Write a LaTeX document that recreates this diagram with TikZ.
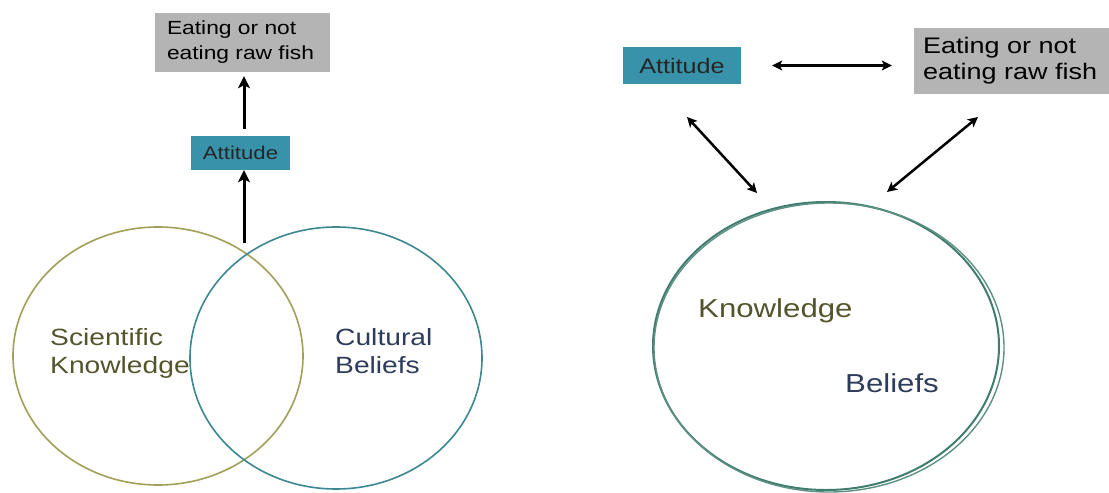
\documentclass[tikz,border=0pt]{standalone}
\usepackage{fontspec}
\setmainfont[FakeStretch=1.2]{Liberation Sans}
\usetikzlibrary{arrows.meta}

\definecolor{boxgray}{RGB}{180,180,180}
\definecolor{boxteal}{RGB}{56,146,170}
\definecolor{olivering}{RGB}{160,160,90}
\definecolor{tealring}{RGB}{60,135,145}
\definecolor{greenring}{RGB}{65,125,110}
\definecolor{olivetext}{RGB}{85,85,45}
\definecolor{bluetext}{RGB}{45,60,90}

\begin{document}
\begin{tikzpicture}[x=1pt,y=-1pt,
  grayblock/.style={fill=boxgray, draw=none, align=left, inner sep=0pt, text=black},
  tealblock/.style={fill=boxteal, draw=none, inner sep=0pt, text=black!85},
  arrowline/.style={line width=3pt, -{Stealth[length=12pt,width=12pt,inset=3pt]}},
  twoway/.style={line width=2.5pt, {Stealth[length=10pt,width=10pt,inset=2.5pt]}-{Stealth[length=10pt,width=10pt,inset=2.5pt]}},
  lbl/.style={inner sep=0pt, anchor=base west, align=left}]

  % page background
  \fill[white] (0,0) rectangle (1109,491);

  % ---------- left diagram: overlapping circles ----------
  \draw[olivering, line width=1.6pt] (158,356) ellipse [x radius=145, y radius=129];
  \draw[tealring, line width=1.6pt] (336,358) ellipse [x radius=146, y radius=131];

  % base anchor of a two-line label sits on its last line
  \node[lbl, text=olivetext, font=\fontsize{23.5}{28}\selectfont] (sk) at (50,373) {Scientific\\Knowledge};
  \node[lbl, text=bluetext, font=\fontsize{23.5}{28}\selectfont] (cb) at (335,373) {Cultural\\Beliefs};

  \node[grayblock, minimum width=175, minimum height=59, text width=151,
        font=\fontsize{19}{25}\selectfont] (eat1) at (242.5,42.5) {Eating or not\\eating raw fish};
  \node[tealblock, minimum width=99, minimum height=34,
        font=\fontsize{18.5}{22}\selectfont] (att1) at (240.5,153) {Attitude};

  \coordinate (meet) at (244,243);
  \draw[arrowline] (meet) -- (meet |- att1.south);
  \draw[arrowline, shorten <=7pt, shorten >=4pt] (meet |- att1.north) -- (meet |- eat1.south);

  % ---------- right diagram: one circle, traced twice ----------
  \draw[greenring, line width=2pt] (826,346) ellipse [x radius=173, y radius=144];
  \draw[greenring!85, line width=1.4pt] (829,347.5) ellipse [x radius=175, y radius=144.5];

  \node[lbl, text=olivetext, font=\fontsize{26}{30}\selectfont] (kn) at (698,317) {Knowledge};
  \node[lbl, text=bluetext, font=\fontsize{26}{30}\selectfont] (bl) at (845,392) {Beliefs};

  \node[tealblock, minimum width=118, minimum height=37,
        font=\fontsize{21}{25}\selectfont] (att2) at (682,65.5) {Attitude};
  \node[grayblock, minimum width=195, minimum height=66, text width=177,
        font=\fontsize{22.5}{26}\selectfont] (eat2) at (1011.5,61) {Eating or not\\eating raw fish};

  \draw[twoway, shorten <=31pt, shorten >=22pt] (att2.east) -- (att2.east -| eat2.west);

  \coordinate (attfoot) at (687,117);
  \coordinate (ringleft) at (757,193);
  \coordinate (eatfoot) at (978,117);
  \coordinate (ringright) at (887,192);
  \draw[twoway] (attfoot) -- (ringleft);
  \draw[twoway] (eatfoot) -- (ringright);
\end{tikzpicture}
\end{document}
